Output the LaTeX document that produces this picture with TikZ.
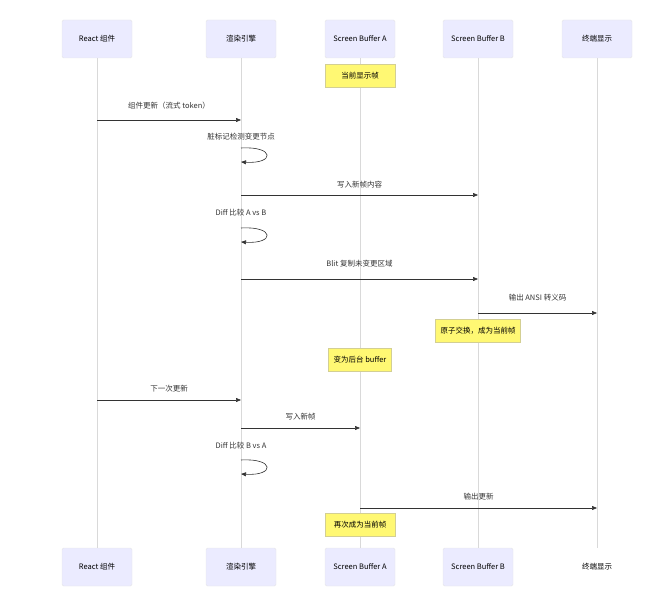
\documentclass[tikz,border=0pt]{standalone}
\usepackage{fontspec}
\setmainfont{Noto Sans CJK SC}
\usetikzlibrary{arrows.meta}
\begin{document}
\begin{tikzpicture}[x=1pt,y=-1pt,font=\fontsize{7.5}{9}\selectfont,
 actor/.style={draw=black!10,fill=blue!8!white,rounded corners=1.5pt,minimum width=70pt,minimum height=38pt,inner sep=0pt},
 plain/.style={minimum width=70pt,minimum height=38pt,inner sep=0pt},
 note/.style={draw=yellow!60!black!50,fill=yellow!55!white,minimum height=23pt,inner sep=5pt},
 life/.style={draw=black!15,line width=0.8pt},
 msg/.style={draw=black!80,line width=0.6pt,-{Triangle[length=5pt,width=4pt]}},
 lbl/.style={inner sep=0pt,text=black!80}]
\useasboundingbox (0,0) rectangle (661,601);
\foreach \n/\x/\t in {r/97/React 组件,e/241/渲染引擎,a/360/Screen Buffer A,b/478/Screen Buffer B}{
  \node[actor] (\n t) at (\x,39) {\t};
  \node[actor] (\n b) at (\x,567) {\t};
  \draw[life] (\n t) -- (\n b);
}
\node[actor] (tt) at (597,39) {终端显示};
\node[plain] (tb) at (597,567) {终端显示};
\draw[life] (tt.south) -- (597,548);
\coordinate (tbt) at (597,548);
% notes
\node[note,minimum width=70pt] (n1) at (360,76) {当前显示帧};
\node[note] (n2) at (478,330.5) {原子交换，成为当前帧};
\node[note] (n3) at (360,359.5) {变为后台 buffer};
\node[note,minimum width=70pt] (n4) at (360,524.5) {再次成为当前帧};
% messages
\coordinate (m1a) at (97,120); \coordinate (m1b) at (241,120);
\draw[msg] (m1a) -- node[lbl,above=10pt]{组件更新（流式 token）} (m1b);
\node[lbl] at (241,137) {脏标记检测变更节点};
\coordinate (l1) at (241,148); \coordinate (l1e) at (241,162);
\draw[msg] (l1) .. controls (275,146) and (275,164) .. (l1e);
\coordinate (m2a) at (241,195); \coordinate (m2b) at (478,195);
\draw[msg] (m2a) -- node[lbl,above=7pt]{写入新帧内容} (m2b);
\node[lbl] at (241,213) {Diff 比较 A vs B};
\coordinate (l2) at (241,228); \coordinate (l2e) at (241,242);
\draw[msg] (l2) .. controls (275,226) and (275,244) .. (l2e);
\coordinate (m3a) at (241,279); \coordinate (m3b) at (478,279);
\draw[msg] (m3a) -- node[lbl,above=12pt]{Blit 复制未变更区域} (m3b);
\coordinate (m4a) at (478,313); \coordinate (m4b) at (597,313);
\draw[msg] (m4a) -- node[lbl,above=12pt]{输出 ANSI 转义码} (m4b);
\coordinate (m5a) at (97,400); \coordinate (m5b) at (241,400);
\draw[msg] (m5a) -- node[lbl,above=8pt]{下一次更新} (m5b);
\coordinate (m6a) at (241,428); \coordinate (m6b) at (360,428);
\draw[msg] (m6a) -- node[lbl,above=8pt]{写入新帧} (m6b);
\node[lbl] at (241,446) {Diff 比较 B vs A};
\coordinate (l3) at (241,460); \coordinate (l3e) at (241,474);
\draw[msg] (l3) .. controls (275,458) and (275,476) .. (l3e);
\coordinate (m7a) at (360,508); \coordinate (m7b) at (597,508);
\draw[msg] (m7a) -- node[lbl,above=8pt]{输出更新} (m7b);
\end{tikzpicture}
\end{document}
